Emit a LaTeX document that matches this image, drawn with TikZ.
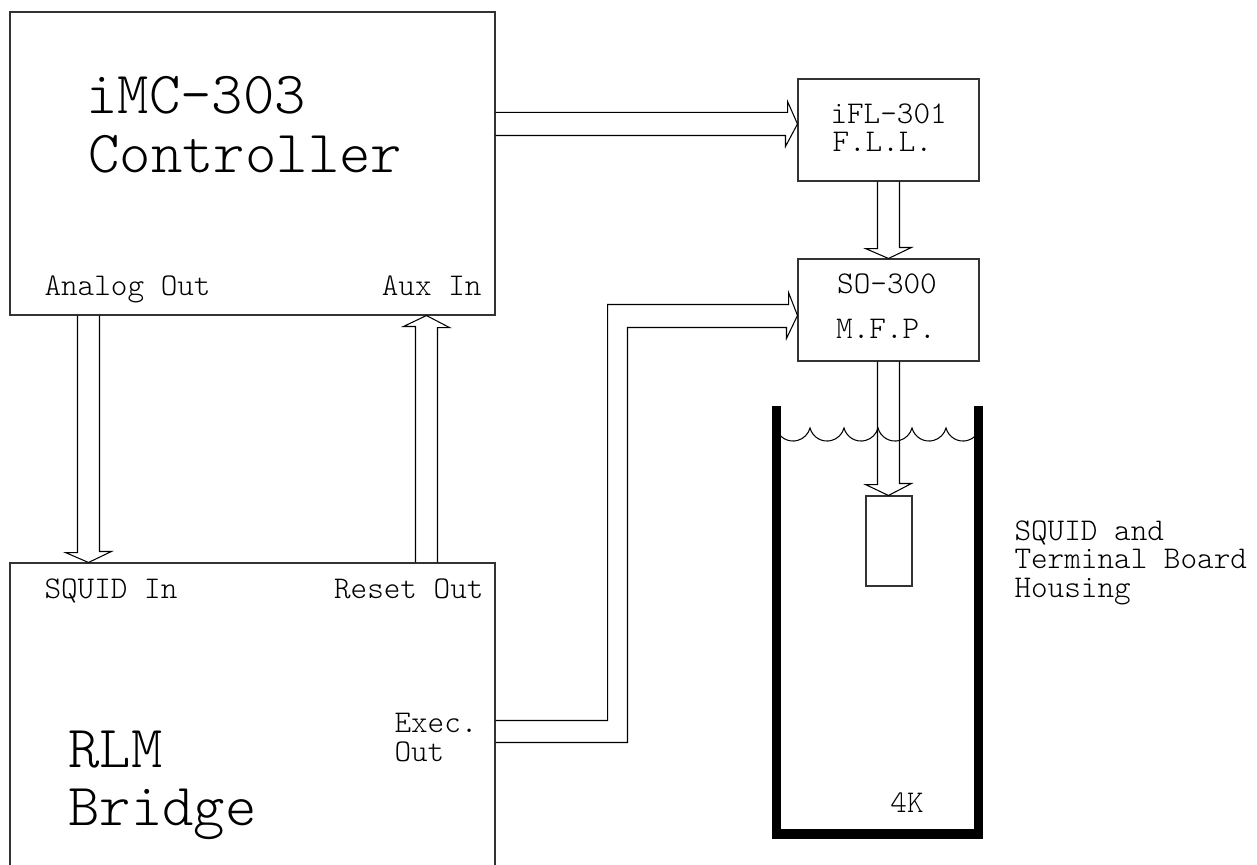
\documentclass[tikz,border=0pt]{standalone}
\usetikzlibrary{calc,fit}

\begin{document}
\begin{tikzpicture}[
    x=0.02cm, y=-0.02cm,
    line width=0.6pt,
    box/.style={rectangle, draw=black!80, inner sep=0pt},
    lbl/.style={inner sep=0pt, font=\ttfamily\fontseries{l}\fontsize{18}{20}\selectfont},
    big/.style={inner sep=0pt, font=\ttfamily\fontseries{l}\fontsize{34}{36}\selectfont},
    flow/.style={draw=black, line join=miter},
]
\useasboundingbox (0,0) rectangle (1257,865);
\clip (0,0) rectangle (1257,865);
% Instruments
\node[box, fit={(10,12) (495,315)}] (ctrl) {};
\node[box, fit={(10,563) (495,900)}] (rlm) {};
\node[box, fit={(798,79) (979,181)}] (ifl) {};
\node[box, fit={(798,259) (979,361)}] (so) {};
\node[box, fit={(866,496) (912,586)}] (sensor) {};
% Controller texts
\node[big, anchor=base west] (ctrl1) at (86,113) {iMC\textendash303};
\node[big, anchor=base west] (ctrl2) at (88,172) {Controller};
\node[lbl, anchor=base west] (anout) at (44,295) {Analog Out};
\node[lbl, anchor=base east] (auxin) at (482,295) {Aux In};
% Bridge texts
\node[lbl, anchor=base west] (sqin) at (44,598) {SQUID In};
\node[lbl, anchor=base east] (rstout) at (484,598) {Reset Out};
\node[lbl, anchor=base west] (exec1) at (394,732) {Exec.};
\node[lbl, anchor=base west] (exec2) at (394,761) {Out};
\node[big, anchor=base west] (rlm1) at (68,767) {RLM};
\node[big, anchor=base west] (rlm2) at (68,825) {Bridge};
% FLL and probe texts
\node[lbl, anchor=base west] (ifl1) at (830,124) {iFL\textendash301};
\node[lbl, anchor=base west] (ifl2) at (832,152) {F.L.L.};
\node[lbl, anchor=base] (so1) at (887,293) {SO\textendash300};
\node[lbl, anchor=base] (so2) at (886,338) {M.F.P.};
\node[lbl, anchor=base] (fourk) at (907,812) {4K};
\node[lbl, anchor=base west] (hous1) at (1014,540) {SQUID and};
\node[lbl, anchor=base west] (hous2) at (1014,568) {Terminal Board};
\node[lbl, anchor=base west] (hous3) at (1014,597) {Housing};
% Block arrows
\draw[flow] ($(ctrl.south west)+(68,0)$) -- ++(0,237) -- ++(-12,0) -- ($(rlm.north west)+(79,0)$)
    -- ++(23,-11) -- ++(-12,0) -- ($(ctrl.south west)+(90,0)$);
\draw[flow] ($(rlm.north west)+(406,0)$) -- ++(0,-236) -- ++(-12,0) -- ($(ctrl.south west)+(417,0)$)
    -- ++(23,12) -- ++(-12,0) -- ($(rlm.north west)+(428,0)$);
\draw[flow] ($(ctrl.north east)+(0,101)$) -- ++(292,0) -- ++(0,-11) -- ($(ifl.north west)+(0,45.5)$)
    -- ++(-12,22.5) -- ++(0,-11) -- ($(ctrl.north east)+(0,124)$);
\draw[flow] ($(ifl.south west)+(80,0)$) -- ++(0,67) -- ++(-12,0) -- ($(so.north west)+(91,0)$)
    -- ++(23,-11) -- ++(-12,0) -- ($(ifl.south west)+(102,0)$);
\draw[flow] ($(rlm.north east)+(0,158)$) -| ++(112,-416) -- ++(181,0) -- ++(0,-12) -- ($(so.north west)+(0,57)$)
    -- ++(-11,23) -- ++(0,-11) -- ++(-159,0) |- ($(rlm.north east)+(0,180)$);
% Helium level
\draw (776,428) arc[start angle=165, end angle=15, radius=17.6]
    arc[start angle=165, end angle=15, radius=17.6]
    arc[start angle=165, end angle=15, radius=17.6]
    arc[start angle=165, end angle=15, radius=17.6]
    arc[start angle=165, end angle=15, radius=17.6]
    arc[start angle=165, end angle=15, radius=17.6];
\draw[flow] ($(so.south west)+(80,0)$) -- ++(0,123) -- ++(-12,0) -- ($(sensor.north west)+(23,0)$)
    -- ++(23,-12) -- ++(-12,0) -- ($(so.south west)+(102,0)$);
% Dewar
\draw[line width=0.19cm, line join=miter] (776.5,406) -- (776.5,834) -- (978.5,834) -- (978.5,406);
\end{tikzpicture}
\end{document}
